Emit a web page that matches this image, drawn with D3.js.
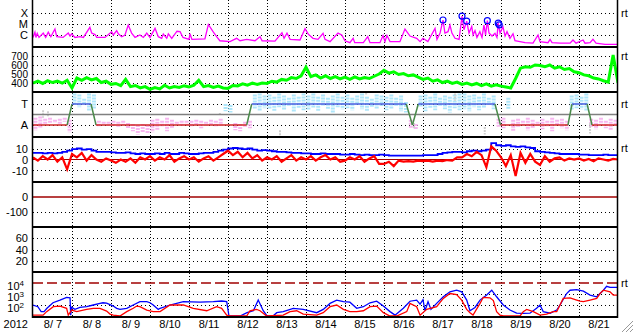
<!DOCTYPE html>
<html>
<head>
<meta charset="utf-8">
<script src="https://cdn.jsdelivr.net/npm/d3@7"></script>
<style>
  body { margin: 0; background: #fff; }
  svg { display: block; }
  text { white-space: pre; }
</style>
</head>
<body>
<svg id="chart" width="633" height="334"></svg>
<script>
// ---- data (hours since 2012-08-07 00:00) ----
const xray = [[0,6e-7],[1.2,1.8e-6],[1.8,6e-7],[2.6,1.4e-6],[3.7,6e-7],[6.3,1.5e-6],[7.8,6e-7],[9.4,1.8e-6],[11,7e-7],[12.5,1.9e-6],[13.5,3.5e-6],[14.6,7e-7],[18.5,6e-7],[21.7,1.5e-6],[22.8,8e-7],[23.8,1.3e-6],[25.8,6e-7],[28.9,7e-7],[31,6e-7],[35,5e-6],[36.1,1.5e-6],[38.2,1.1e-6],[39.2,6e-7],[44.3,6e-7],[48.4,2e-6],[49.4,1e-6],[51.5,2.5e-6],[52.5,1.3e-6],[54.6,7e-7],[56.6,1e-6],[58.6,8e-6],[60.7,1.5e-6],[62.8,6e-7],[65.8,1e-6],[67.9,6e-7],[70,1.5e-6],[72,6e-7],[75.1,4e-6],[77.1,7e-7],[79.2,5e-7],[80.2,1.2e-6],[82.3,5e-7],[83.3,1.3e-6],[85.4,5e-7],[88.6,2.2e-6],[90.5,2e-6],[92.3,6e-7],[96,4e-7],[96.6,1.3e-6],[97.8,4e-7],[105.8,4.5e-7],[107.9,9e-6],[109.5,4e-6],[110.8,2e-6],[113,7e-7],[115,3e-7],[121.2,2.5e-7],[125.3,5e-7],[127.4,3e-7],[131.5,4e-7],[136.6,3e-7],[139.7,7e-7],[141,3e-7],[148.9,2.8e-7],[153.2,1.6e-6],[154.5,5e-7],[156.3,1.5e-6],[158.2,4e-7],[164.3,3.5e-7],[167.4,3.8e-6],[169.4,1.2e-6],[172.3,5e-7],[175.4,4e-7],[178.5,1.4e-6],[179.7,4e-7],[182.8,2.5e-7],[187.7,1.5e-6],[190,1e-6],[192,3e-7],[195,2e-7],[197,5e-7],[198,2e-7],[203.3,2e-7],[206,7e-7],[207.4,2e-7],[213.5,2e-7],[215.4,9e-7],[216.6,2.5e-7],[217.8,9e-7],[219.7,2.5e-7],[225.8,2.5e-7],[228.9,3.5e-6],[232,8e-7],[236.1,5e-7],[238.2,2.5e-7],[240,5e-7],[243,2.5e-7],[247.4,4e-6],[248.6,4e-7],[250.5,1.5e-6],[252.3,2.3e-5],[253.5,1.5e-6],[255.4,2e-6],[256.6,8e-6],[257.8,1.5e-6],[259.7,5e-7],[262.2,4e-7],[264,5.3e-5],[265.2,3e-6],[266.9,1.8e-5],[268.3,1.5e-6],[270,6e-6],[270.8,1e-6],[272,2.5e-6],[273.2,6e-7],[275,2e-6],[276.3,6e-7],[277.5,8e-6],[278.5,1e-6],[279.6,2e-5],[280.6,1.5e-6],[282.5,8e-7],[284.3,1.4e-6],[285.5,6e-7],[286.3,1.2e-5],[287.4,1.5e-6],[289.2,5.7e-6],[290.5,8e-7],[291.7,2e-6],[293.5,5e-7],[295.4,1.3e-6],[296.6,3e-7],[299.7,2.5e-7],[302.8,2e-7],[307.7,1.8e-7],[310.8,1e-6],[312,2.5e-7],[316.9,2e-7],[318.2,4e-7],[319.4,2e-7],[324.3,1.8e-7],[330.5,1.8e-7],[332.3,3.5e-7],[334.2,1.8e-7],[338.5,3.5e-7],[339.7,1.8e-7],[342.8,2e-7],[344.6,4e-7],[346.5,1.8e-7],[352,1.4e-7],[360,1.4e-7]];

const flareHours = [252.3, 264, 266.9, 279.6, 286.3, 286.9];
const flareFlux = [2.3e-5, 5.3e-5, 1.8e-5, 2e-5, 1.2e-5, 8.5e-6];

// solar wind speed, every 3 h
const speed = [
  400,420,395,425,405,420,398,430,
  345,455,430,460,435,450,405,420,
  385,395,370,440,360,372,345,360,
  330,350,335,375,345,360,350,370,
  355,375,430,360,372,350,365,345,
  340,372,368,390,375,398,385,400,
  395,420,410,440,430,460,450,480,
  575,470,490,455,480,450,470,445,
  465,440,468,445,460,450,475,500,
  540,510,525,495,505,480,490,465,
  440,455,420,435,405,420,395,410,
  385,400,378,395,370,390,365,380,
  365,355,345,450,565,580,575,600,
  595,580,600,565,580,550,560,525,
  515,490,480,455,445,425,410,710,
  400];

// sector scatter, every 3 h (T = 1, A = -1)
const phiHi = [
  -0.3,-0.2,-0.4,-0.3,-0.5,-0.4,-0.3,-0.5,
  2.0,1.9,1.5,2.0,1.9,-0.6,-0.7,-0.7,
  -0.6,-0.7,-0.6,-0.8,-0.9,-1.0,-0.9,-1.0,
  -0.5,-0.4,-0.6,-0.3,-0.5,-0.7,-0.6,-0.6,
  -0.6,-0.5,-0.6,-0.7,-0.5,-0.6,-0.4,1.0,
  0.9,-0.8,-0.9,-0.7,-0.6,1.9,2.0,1.8,
  1.9,1.7,2.0,1.8,1.6,1.9,1.7,2.0,
  1.8,2.0,1.7,1.9,1.6,1.8,2.0,1.7,
  1.9,1.6,1.8,2.0,1.7,1.5,1.9,1.8,
  1.7,1.9,1.6,1.8,1.2,-0.5,-0.9,1.8,
  1.9,1.7,2.0,1.6,1.8,1.7,1.9,2.0,
  2.0,1.8,1.9,1.7,2.0,1.6,1.8,-0.4,
  -0.3,1.6,-0.5,-0.4,-0.6,-0.3,-0.5,-0.7,
  -0.4,-0.6,-0.3,-0.5,-0.4,-0.6,1.8,1.9,
  1.7,2.0,-0.4,-0.5,-0.3,-0.6,-0.4,-0.5];
const phiLo = [
  -1.5,-1.3,-0.9,-0.8,-0.8,-0.9,-0.7,-1.7,
  0.9,0.7,0.9,0.3,0.5,-1.2,-1.0,-1.1,
  -1.1,-1.2,-1.0,-1.3,-1.6,-1.9,-1.7,-1.8,
  -1.7,-1.5,-1.2,-1.6,-1.3,-1.0,-1.1,-1.0,
  -1.2,-1.0,-1.3,-1.1,-1.0,-1.2,-1.1,0.3,
  0.2,-1.5,-1.6,-1.2,-1.3,0.5,0.3,0.6,
  0.5,0.3,0.7,0.4,0.8,0.2,0.6,0.4,
  0.4,0.6,0.3,0.8,0.5,0.2,0.7,0.5,
  0.6,0.4,0.9,0.5,0.3,0.7,0.5,0.8,
  0.4,0.5,0.8,0.3,0.2,-1.3,-1.4,0.7,
  0.3,0.6,0.4,0.8,0.5,0.2,0.6,0.4,
  0.5,0.3,0.7,0.4,0.6,0.9,0.5,-1.2,
  -1.3,0.5,-1.6,-1.2,-1.0,-1.5,-1.3,-1.1,
  -1.4,-1.2,-1.6,-1.0,-1.3,-1.5,0.4,0.6,
  0.5,0.3,-1.2,-1.4,-1.0,-1.3,-1.5,-1.1];

const grayHours = [6.2, 9.2, 115, 152, 205, 234.5, 259.7, 278, 342.8];
const grayHi = [0.4, 0.3, 0.15, -1.5, 2.1, -0.8, 2.0, -1.2, -0.8];
const grayLo = [-0.3, -0.2, -0.15, -2.1, 1.8, -1.3, 1.3, -1.9, -1.8];

const sectorHours = [0, 21, 24, 35.7, 38.8, 131.5, 134.6, 229.7, 233.5, 237.1, 284.3, 287.7, 329.2, 331.7, 341, 344, 360];
const sectorState = [-1, -1, 1, 1, -1, -1, 1, 1, -1, 1, 1, -1, -1, 1, 1, -1, -1];

// IMF Bt and Bz (nT), every 3 h
const bt = [
  6,6,5.5,6,5.5,6,7,8,
  9.5,10,9,9.5,8,7,7,7,
  6.5,6,6,6.5,5.5,5,5.5,5,
  5,5.5,5,6,5,5,6,5.5,
  5,5,5.5,6,6,7,8,9,
  10,10.5,10,9.5,10,9,8,8.5,
  8,7.5,7,7,6.5,6,6,5.5,
  5.5,5,5,5.5,5,5,5,4.5,
  4.5,5,4.5,4,4.5,4,4,4.5,
  4,3.5,3.5,3.5,3.5,3.5,3.5,3.5,
  4,4,4,5,6,6.5,7,7,
  6.5,7.5,8,7.5,8,9,15,13,
  12.5,13,12,11.5,12,11,10.5,7.5,
  7,6.5,6,5.5,5,5,5,5,
  4.5,4.5,4,4,4,4.5,4,4,
  4];
const bz = [
  2,-1,3,0,4,-2,2,-9,
  5,2,6,-1,4,0,-2,1,
  -1,-3,0,-2,1,-3,2,0,
  3,-1,2,0,4,-2,1,3,
  0,2,-2,1,3,-1,2,5,
  8,4,7,2,6,1,4,-1,
  2,0,3,-2,1,4,-1,2,
  0,3,-1,2,4,0,2,-2,
  -1,2,0,3,-2,1,3,-4,
  -4,-2,-6,-1,-2,-1.5,-2,-1,
  -1.5,-1,-2,-1,-1.5,-0.5,-1,2,
  2,5,3,7,4,-7,12,8,
  2,-6,4,-15,6,-3,5,-2,
  -5,3,-2,1,2,-1,1,0,
  1,-1,0.5,-1.5,1,0,-1,0.5,
  0];

// electron flux
const eBlue = [[0,100],[3,70],[5,25],[6.8,25],[8.6,50],[12.3,160],[16.6,280],[20.7,500],[22.8,450],[23.2,12],[23.8,60],[25.8,40],[28.9,60],[33,70],[37.1,100],[41.2,140],[43.1,160],[45.3,150],[49.4,80],[51.5,50],[53.5,40],[57.7,50],[61.7,100],[65.8,200],[70,200],[72,160],[74,100],[77.1,40],[78.2,50],[84.3,100],[92.5,200],[102.8,180],[111,200],[116.1,230],[119.2,200],[120.6,10],[127.4,10],[131.7,20],[135.6,30],[138.6,280],[141.7,30],[144,10],[147.7,10],[150,20],[154,25],[160.2,50],[166.3,40],[174.6,20],[178.6,40],[182.8,140],[186.9,280],[191,200],[195,180],[199.2,50],[203.3,70],[207.4,160],[211.5,220],[215.6,80],[219.7,25],[222.8,12],[227.9,50],[232,220],[236.1,280],[238.2,120],[240,300],[241.2,30],[243.1,200],[244.9,40],[248.4,140],[252.5,560],[256.6,1600],[260.7,2200],[263.8,1600],[266.9,280],[268.9,30],[272,60],[275.1,280],[279.2,800],[282.3,2200],[285.3,560],[289.4,100],[293.5,35],[297.6,18],[301.7,17],[305.8,18],[309.9,50],[312,100],[314,25],[318.2,18],[322.3,35],[324.3,100],[328.4,1100],[330.5,2200],[334.6,2500],[338.7,1800],[342.8,800],[346.9,560],[351,2200],[353,5000],[355.1,4000],[360,4000]];
const eRed = [[0,12],[6.2,12],[8.4,25],[12.5,70],[16.6,80],[20.7,50],[21.7,12],[23.8,35],[26.9,25],[33,40],[37.1,50],[41.2,50],[45.3,28],[47.4,15],[49.4,12],[53.5,10],[57.7,25],[61.7,50],[63.8,80],[65.8,70],[70,35],[74,25],[78.2,25],[84.3,100],[92.5,100],[98.6,50],[106.9,30],[113,70],[116.1,50],[119.2,12],[121.2,10],[131.5,10],[133.5,30],[137.6,40],[139.7,30],[143.8,10],[154,12],[158.2,25],[162.3,30],[166.3,15],[174.6,12],[178.6,20],[182.8,70],[186.9,100],[191,40],[195,25],[199.2,25],[203.3,30],[207.4,70],[211.5,80],[215.6,20],[219.7,10],[223.8,10],[230,25],[232,140],[236.1,70],[238.2,12],[242.3,40],[248.4,70],[252.5,400],[256.6,1100],[260.7,900],[263.8,280],[266.9,40],[268.9,20],[270.8,12],[275.1,140],[277.1,500],[281.2,450],[283.3,250],[285.3,25],[287.4,12],[289.4,10],[299.7,10],[301.7,25],[303.8,40],[307.9,25],[312,12],[316.1,15],[320.2,25],[322.3,25],[324.3,100],[326.3,400],[330.5,450],[334.6,280],[336.6,220],[338.7,200],[342.8,280],[346.9,400],[348.9,1100],[351,2200],[355.1,1600],[357.1,800],[360,800]];

// ---- layout ----
const FONT = '"Liberation Sans", Arial, sans-serif';
const L = 33, R = 618;
const tops = [2, 47, 92, 137, 182, 227, 272];
const PH = 45, BOTTOM = 317;

const t0 = new Date(2012, 7, 7);
const tEnd = new Date(2012, 7, 22);
const hr = h => new Date(t0.getTime() + h * 3600e3);

const svg = d3.select("#chart");

const x = d3.scaleTime().domain([t0, tEnd]).range([L, R]);

const yXr = d3.scaleLog().domain([1e-7, 1e-3]).range([46, 2]).clamp(true);
const ySpd = d3.scaleLinear().domain([300, 800]).range([92, 47]);
const ySec = d3.scaleLinear().domain([-2.14, 2.14]).range([137, 92]);
const yB = d3.scaleLinear().domain([-20.5, 20.5]).range([182, 137]);
const yDst = d3.scaleLinear().domain([-200, 100]).range([227, 182]);
const yKp = d3.scaleLinear().domain([0, 80]).range([272, 227]);
const yE = d3.scaleLog().domain([10, 1e5]).range([316, 272]).clamp(true);

// clip paths for panels
const defs = svg.append("defs");
tops.forEach((t, i) => {
  defs.append("clipPath").attr("id", "clip" + i)
    .append("rect").attr("x", L).attr("y", t).attr("width", R - L).attr("height", PH);
});
const panel = i => svg.append("g").attr("clip-path", `url(#clip${i})`);

// dotted gridlines
const grid = svg.append("g").attr("stroke", "#000").attr("stroke-width", 1);
function hGrid(scale, vals) {
  vals.forEach(v => {
    const y = Math.round(scale(v)) + 0.5;
    grid.append("line").attr("x1", L).attr("x2", R).attr("y1", y).attr("y2", y)
      .attr("stroke-dasharray", "1,3");
  });
}
hGrid(yXr, [1e-4, 1e-5, 1e-6]);
hGrid(ySpd, [700, 600, 500, 400]);
hGrid(ySec, [1, -1]);
hGrid(yB, [10, -10]);
hGrid(yDst, [-100]);
hGrid(yKp, [60, 40, 20]);
hGrid(yE, [1e3, 1e2]);

d3.timeDay.range(new Date(2012, 7, 8), tEnd).forEach(d => {
  const xx = Math.round(x(d)) + 0.5;
  grid.append("line").attr("x1", xx).attr("x2", xx).attr("y1", 0).attr("y2", BOTTOM)
    .attr("stroke-dasharray", "1,2");
});

// ---- panel 1: X-ray ----
const p1 = panel(0);
p1.append("path").datum(xray)
  .attr("fill", "none").attr("stroke", "#ff00ff").attr("stroke-width", 1.3)
  .attr("d", d3.line().x(d => x(hr(d[0]))).y(d => yXr(d[1])));
svg.append("g").selectAll("circle").data(flareHours).join("circle")
  .attr("cx", d => x(hr(d)))
  .attr("cy", (d, i) => yXr(flareFlux[i]))
  .attr("r", 3).attr("fill", "none").attr("stroke", "#0000ff").attr("stroke-width", 1.2);

// ---- panel 2: speed ----
const p2 = panel(1);
p2.append("path").datum(speed)
  .attr("fill", "none").attr("stroke", "#00ff00").attr("stroke-width", 3)
  .attr("d", d3.line().x((d, i) => x(hr(i * 3))).y(d => ySpd(d)));

// ---- panel 3: sector ----
const p3 = panel(2);
p3.selectAll("line.phi").data(phiHi).join("line")
  .attr("x1", (d, i) => x(hr(i * 3 + 1.5))).attr("x2", (d, i) => x(hr(i * 3 + 1.5)))
  .attr("y1", d => ySec(d)).attr("y2", (d, i) => ySec(phiLo[i]))
  .attr("stroke", d => d > 0 ? "#aee6fa" : "#f7b6f0")
  .attr("stroke-width", 4).attr("stroke-dasharray", "2,1");
p3.selectAll("line.gray").data(grayHours).join("line")
  .attr("x1", d => x(hr(d))).attr("x2", d => x(hr(d)))
  .attr("y1", (d, i) => ySec(grayHi[i])).attr("y2", (d, i) => ySec(grayLo[i]))
  .attr("stroke", "#cfcfcf").attr("stroke-width", 2).attr("stroke-dasharray", "2,1");
p3.append("line").attr("x1", L).attr("x2", R)
  .attr("y1", ySec(0)).attr("y2", ySec(0))
  .attr("stroke", "#808080").attr("stroke-width", 1.5);
for (let i = 0; i < sectorHours.length - 1; i++) {
  const a = sectorState[i], b = sectorState[i + 1];
  const col = a !== b ? "#4a8a4a" : (a > 0 ? "#4a5ee0" : "#d02828");
  p3.append("line")
    .attr("x1", x(hr(sectorHours[i]))).attr("x2", x(hr(sectorHours[i + 1])))
    .attr("y1", ySec(a)).attr("y2", ySec(b))
    .attr("stroke", col).attr("stroke-width", 1.5);
}

// ---- panel 4: IMF ----
const p4 = panel(3);
p4.append("line").attr("x1", L).attr("x2", R).attr("y1", yB(0)).attr("y2", yB(0))
  .attr("stroke", "#a00000").attr("stroke-width", 1);
p4.append("path").datum(bt)
  .attr("fill", "none").attr("stroke", "#0000ff").attr("stroke-width", 1.8)
  .attr("d", d3.line().curve(d3.curveStepAfter).x((d, i) => x(hr(i * 3))).y(d => yB(d)));
p4.append("path").datum(bz)
  .attr("fill", "none").attr("stroke", "#ff0000").attr("stroke-width", 2.2)
  .attr("d", d3.line().x((d, i) => x(hr(i * 3))).y(d => yB(d)));

// ---- panel 5: Dst ----
const p5 = panel(4);
p5.append("line").attr("x1", L).attr("x2", R).attr("y1", yDst(0)).attr("y2", yDst(0))
  .attr("stroke", "#a00000").attr("stroke-width", 1.5);

// ---- panel 7: electron flux ----
const p7 = panel(6);
p7.append("line").attr("x1", L).attr("x2", R).attr("y1", yE(1e4)).attr("y2", yE(1e4))
  .attr("stroke", "#a00000").attr("stroke-width", 1.5).attr("stroke-dasharray", "10,4");
const eLine = d3.line().x(d => x(hr(d[0]))).y(d => yE(d[1]));
p7.append("path").datum(eBlue)
  .attr("fill", "none").attr("stroke", "#0000ff").attr("stroke-width", 1.3).attr("d", eLine);
p7.append("path").datum(eRed)
  .attr("fill", "none").attr("stroke", "#ff0000").attr("stroke-width", 1.3).attr("d", eLine);

// ---- frame ----
const frame = svg.append("g").attr("stroke", "#000");
tops.slice(1).concat([BOTTOM]).forEach(y => {
  frame.append("line").attr("x1", L).attr("x2", R).attr("y1", y).attr("y2", y).attr("stroke-width", 2);
});
frame.append("line").attr("x1", L - 0.5).attr("x2", L - 0.5).attr("y1", 0).attr("y2", BOTTOM + 1).attr("stroke-width", 1.5);
frame.append("line").attr("x1", R - 0.5).attr("x2", R - 0.5).attr("y1", 0).attr("y2", BOTTOM + 1).attr("stroke-width", 1.5);

// ---- axes ----
function leftAxis(scale, vals, fmt, pad, size) {
  const g = svg.append("g").attr("transform", `translate(${L},0)`)
    .call(d3.axisLeft(scale).tickValues(vals).tickFormat(fmt).tickSize(0).tickPadding(pad || 5));
  g.select(".domain").remove();
  g.attr("font-family", FONT).attr("font-size", size || 11);
  g.selectAll("text").attr("fill", "#000");
  return g;
}
const xrayNames = new Map([[1e-4, "X"], [1e-5, "M"], [1e-6, "C"]]);
leftAxis(yXr, [1e-4, 1e-5, 1e-6], d => xrayNames.get(d));
leftAxis(ySpd, [700, 600, 500, 400], d => String(d), 5, 10);
leftAxis(ySec, [1, -1], d => d > 0 ? "T" : "A");
leftAxis(yB, [10, 0, -10], d => String(d));
leftAxis(yDst, [0, -100], d => String(d));
leftAxis(yKp, [60, 40, 20], d => String(d));
const eAxis = leftAxis(yE, [1e4, 1e3, 1e2], d => "", 9);
eAxis.selectAll("text").each(function (d) {
  const t = d3.select(this).attr("dy", "0.62em");
  t.append("tspan").text("10");
  t.append("tspan").attr("dy", "-0.6em").attr("font-size", 8).text(Math.round(Math.log10(d)));
});

const xAxis = svg.append("g").attr("transform", `translate(0,${BOTTOM})`)
  .call(d3.axisBottom(x)
    .tickValues(d3.timeDay.range(t0, tEnd).map(d => d3.timeHour.offset(d, 12)))
    .tickFormat(d => `${d.getMonth() + 1}/${d.getDate() < 10 ? " " + d.getDate() : d.getDate()}`)
    .tickSize(0).tickPadding(3));
xAxis.select(".domain").remove();
xAxis.attr("font-family", FONT).attr("font-size", 11);
xAxis.selectAll("text").attr("fill", "#000");

svg.append("text").attr("x", 28).attr("y", 328).attr("text-anchor", "end")
  .attr("font-family", FONT).attr("font-size", 11).text("2012");

// right-side "rt" marks
[yXr(1e-4), ySpd(700), ySec(1), yB(10), yE(1e4)].forEach(y => {
  svg.append("text").attr("x", 621).attr("y", y).attr("dy", "0.35em")
    .attr("font-family", FONT).attr("font-size", 11).text("rt");
});

// resize grip
const grip = svg.append("g").attr("stroke", "#999").attr("stroke-width", 1);
[[633, 321, 622, 332], [633, 325, 626, 332], [633, 329, 630, 332]].forEach(p => {
  grip.append("line").attr("x1", p[0]).attr("y1", p[1]).attr("x2", p[2]).attr("y2", p[3]);
});
</script>
</body>
</html>
